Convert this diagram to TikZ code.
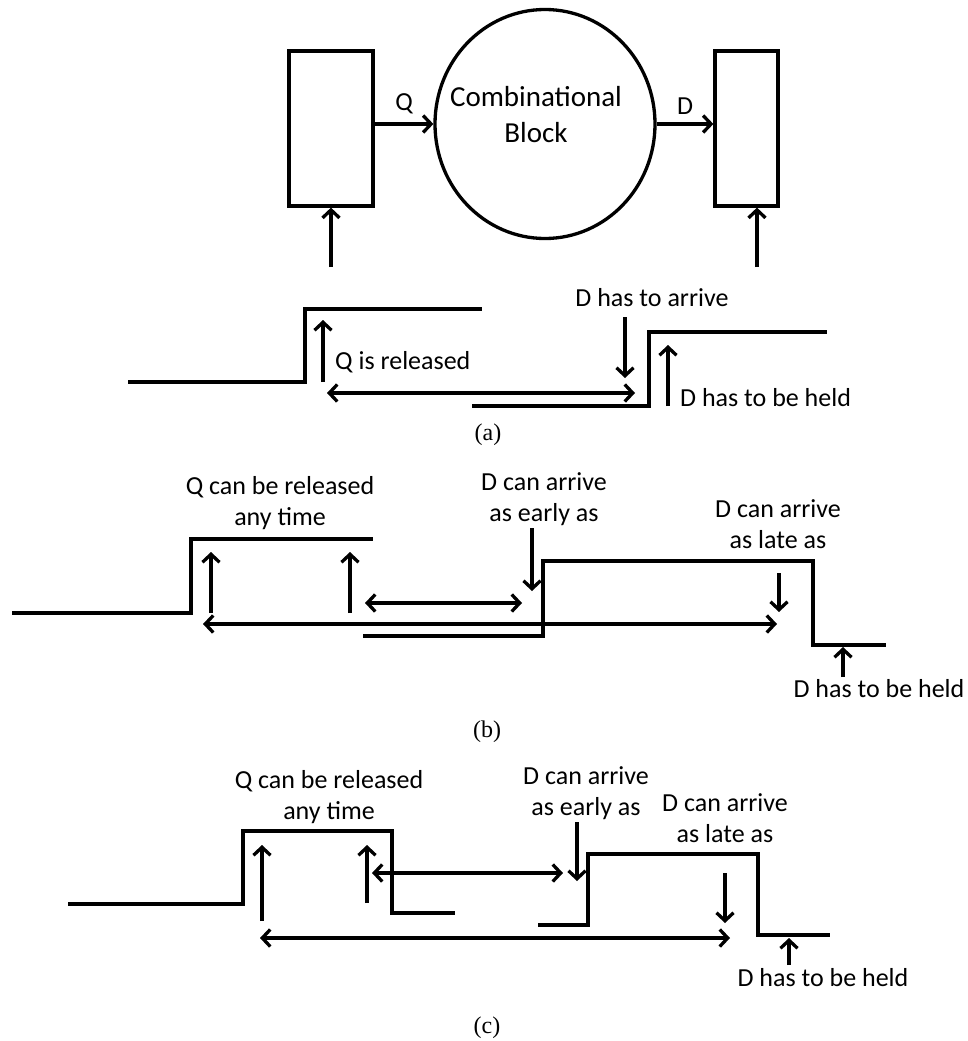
\documentclass[tikz,border=0pt]{standalone}
\usepackage{fontspec}
\setmainfont{Carlito}
\newfontfamily\capfont{Liberation Serif}
\usetikzlibrary{arrows.meta, positioning, shapes.geometric}

\begin{document}
\begin{tikzpicture}[x=1pt, y=-1pt,
    reg/.style={rectangle, draw, line width=3.3pt, minimum height=155pt, inner sep=0pt},
    comb/.style={ellipse, draw, line width=3.3pt, minimum width=220pt, minimum height=229pt, inner sep=0pt},
    wave/.style={line width=3.4pt},
    arr/.style={line width=3.3pt, -{Straight Barb[length=8pt, width=17pt]}},
    darr/.style={line width=3.3pt, {Straight Barb[length=8pt, width=17pt]}-{Straight Barb[length=8pt, width=17pt]}},
    lbl/.style={inner sep=0pt, align=center, font=\fontsize{26}{31}\selectfont},
    subcap/.style={inner sep=0pt, font=\capfont\fontsize{24}{28}\selectfont}
  ]
    \useasboundingbox (0,0) rectangle (968,1041);

    % registers and the block
    \node[reg, minimum width=84pt] (regq) at (331,128.5) {};
    \node[comb] (blk) at (545,124) {};
    \node[reg, minimum width=63pt] (regd) at (746.5,128.5) {};
    \node[inner sep=0pt, align=center, font=\fontsize{29}{36}\selectfont] (blktxt) at (536,115) {Combinational\\Block};

    \draw[arr] (regq.east |- blk.center) -- node[lbl, above=8pt] (qlbl) {Q} (blk.west);
    \draw[arr] (blk.east) -- node[lbl, above=8pt] (dlbl) {D} (regd.west |- blk.center);

    \coordinate (clkq) at (331,267);
    \coordinate (clkd) at (757,267);
    \draw[arr] (clkq) -- (regq.south);
    \draw[arr] (clkd) -- (regd.south -| clkd);

    % (a)
    \draw[wave] (128,382) -- (305,382) -- (305,309) -- (482,309);
    \draw[wave] (472,406) -- (649,406) -- (649,332) -- (827,332);
    \coordinate (a-rel0) at (323,382);  \coordinate (a-rel1) at (323,320);
    \coordinate (a-win0) at (327,393);  \coordinate (a-win1) at (635,393);
    \coordinate (a-arr0) at (625,317);  \coordinate (a-arr1) at (625,378);
    \coordinate (a-hld0) at (668,406);  \coordinate (a-hld1) at (668,345);
    \draw[arr] (a-rel0) -- (a-rel1);
    \draw[darr] (a-win0) -- (a-win1);
    \draw[arr] (a-arr0) -- (a-arr1);
    \draw[arr] (a-hld0) -- (a-hld1);
    \node[lbl, anchor=west] (a-rel) at (335,362) {Q is released};
    \node[lbl] (a-arr) at (652,298) {D has to arrive};
    \node[lbl, anchor=west] (a-hld) at (680,398) {D has to be held};
    \node[subcap] (a-cap) at (488,435) {(a)};

    % (b)
    \draw[wave] (12,613) -- (191,613) -- (191,539) -- (373,539);
    \draw[wave] (363,636) -- (543,636) -- (543,561) -- (813,561) -- (813,645) -- (886,645);
    \coordinate (b-rel0) at (211,613);  \coordinate (b-rel1) at (211,552);
    \coordinate (b-rel2) at (350,613);  \coordinate (b-rel3) at (350,552);
    \coordinate (b-win0) at (365,603);  \coordinate (b-win1) at (522,603);
    \coordinate (b-span0) at (203,624); \coordinate (b-span1) at (777,624);
    \coordinate (b-ear0) at (532,528);  \coordinate (b-ear1) at (532,591);
    \coordinate (b-lat0) at (779,573);  \coordinate (b-lat1) at (779,612);
    \coordinate (b-hld0) at (843,677);  \coordinate (b-hld1) at (843,647);
    \draw[arr] (b-rel0) -- (b-rel1);
    \draw[arr] (b-rel2) -- (b-rel3);
    \draw[darr] (b-win0) -- (b-win1);
    \draw[darr] (b-span0) -- (b-span1);
    \draw[arr] (b-ear0) -- (b-ear1);
    \draw[arr] (b-lat0) -- (b-lat1);
    \draw[arr] (b-hld0) -- (b-hld1);
    \node[lbl] (b-rel) at (280,503.5) {Q can be released\\any time};
    \node[lbl] (b-ear) at (544,499) {D can arrive\\as early as};
    \node[lbl] (b-lat) at (778,524.5) {D can arrive\\as late as};
    \node[lbl] (b-hld) at (879,689) {D has to be held};
    \node[subcap] (b-cap) at (487,732) {(b)};

    % (c)
    \draw[wave] (68,904) -- (243,904) -- (243,831) -- (392,831) -- (392,913) -- (455,913);
    \draw[wave] (538,925) -- (588,925) -- (588,854) -- (758,854) -- (758,935) -- (830,935);
    \coordinate (c-rel0) at (262,921);  \coordinate (c-rel1) at (262,845);
    \coordinate (c-rel2) at (367,903);  \coordinate (c-rel3) at (367,845);
    \coordinate (c-win0) at (372,873);  \coordinate (c-win1) at (563,873);
    \coordinate (c-span0) at (260,938); \coordinate (c-span1) at (730,938);
    \coordinate (c-ear0) at (577,822);  \coordinate (c-ear1) at (577,881);
    \coordinate (c-lat0) at (725,873);  \coordinate (c-lat1) at (725,923);
    \coordinate (c-hld0) at (789,965);  \coordinate (c-hld1) at (789,938);
    \draw[arr] (c-rel0) -- (c-rel1);
    \draw[arr] (c-rel2) -- (c-rel3);
    \draw[darr] (c-win0) -- (c-win1);
    \draw[darr] (c-span0) -- (c-span1);
    \draw[arr] (c-ear0) -- (c-ear1);
    \draw[arr] (c-lat0) -- (c-lat1);
    \draw[arr] (c-hld0) -- (c-hld1);
    \node[lbl] (c-rel) at (329,797.5) {Q can be released\\any time};
    \node[lbl] (c-ear) at (586,793) {D can arrive\\as early as};
    \node[lbl] (c-lat) at (725,818) {D can arrive\\as late as};
    \node[lbl] (c-hld) at (823,978) {D has to be held};
    \node[subcap] (c-cap) at (487,1028) {(c)};
  \end{tikzpicture}
\end{document}
